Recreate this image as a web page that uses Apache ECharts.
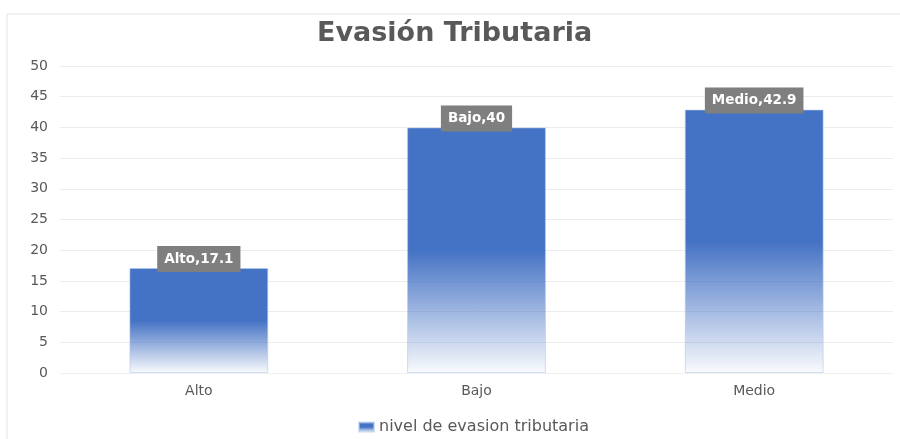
<!DOCTYPE html>
<html>
<head>
<meta charset="utf-8">
<script src="https://cdn.jsdelivr.net/npm/echarts@6/dist/echarts.min.js"></script>
<style>
  html, body { margin: 0; padding: 0; background: #fff; }
  #chart { width: 900px; height: 439px; }
</style>
</head>
<body>
<div id="chart"></div>
<script>
var categories = ['Alto', 'Bajo', 'Medio']
var values = [17.1, 40, 42.9]
var seriesName = 'nivel de evasion tributaria'
var yTicks = { min: 0, max: 50, interval: 5 }

var chart = echarts.init(document.getElementById('chart'))
var option = {
  backgroundColor: '#fff',
  animation: false,
  graphic: [{
    type: 'rect',
    shape: { x: 7, y: 14, width: 900, height: 440 },
    style: { fill: 'none', stroke: '#e3e3e3', lineWidth: 1 },
    silent: true
  }],
  title: {
    text: 'Evasión Tributaria',
    left: 312,
    top: 15,
    textStyle: {
      fontFamily: 'DejaVu Sans',
      fontSize: 27,
      fontWeight: 'bold',
      color: '#595959'
    }
  },
  grid: { left: 60, right: 7, top: 66, bottom: 66 },
  xAxis: {
    type: 'category',
    data: categories,
    axisTick: { show: false },
    axisLine: { lineStyle: { color: '#f0f0f0' } },
    axisLabel: {
      color: '#595959',
      fontFamily: 'DejaVu Sans',
      fontSize: 14,
      margin: 11
    }
  },
  yAxis: {
    type: 'value',
    min: yTicks.min,
    max: yTicks.max,
    interval: yTicks.interval,
    axisLine: { show: false },
    axisTick: { show: false },
    axisLabel: {
      color: '#595959',
      fontFamily: 'DejaVu Sans',
      fontSize: 14,
      margin: 12
    },
    splitLine: { lineStyle: { color: '#ececec' } }
  },
  legend: {
    bottom: 4,
    left: 358,
    padding: 0,
    icon: 'rect',
    itemWidth: 15,
    itemHeight: 9,
    textStyle: {
      color: '#595959',
      fontFamily: 'DejaVu Sans',
      fontSize: 16
    },
    data: [seriesName]
  },
  series: [{
    name: seriesName,
    type: 'bar',
    data: values,
    barCategoryGap: '50%',
    itemStyle: {
      color: new echarts.graphic.LinearGradient(0, 0, 0, 1, [
        { offset: 0, color: '#4472C4' },
        { offset: 0.5, color: '#4472C4' },
        { offset: 1, color: 'rgba(68,114,196,0.03)' }
      ]),
      borderColor: 'rgba(180,200,235,0.6)',
      borderWidth: 1
    },
    label: {
      show: true,
      position: 'top',
      distance: -4,
      formatter: '{b},{c}',
      backgroundColor: '#7f7f7f',
      padding: [6, 7, 6, 7],
      color: '#ffffff',
      fontFamily: 'DejaVu Sans',
      fontWeight: 'bold',
      fontSize: 13.5
    }
  }]
}
option && chart.setOption(option)
</script>
</body>
</html>
